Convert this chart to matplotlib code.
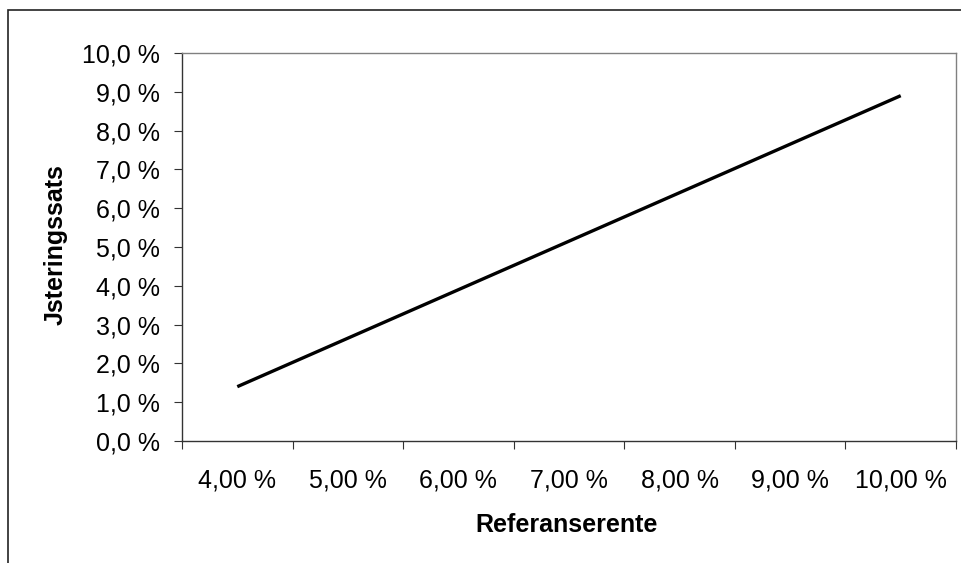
import numpy as np
import matplotlib
matplotlib.use("Agg")
from matplotlib import pyplot as plt
from matplotlib.patches import Rectangle

# data
categories = ['4,00 %', '5,00 %', '6,00 %', '7,00 %', '8,00 %', '9,00 %', '10,00 %']
values = [1.40, 2.65, 3.90, 5.15, 6.40, 7.65, 8.90]
y_ticks = [0, 1, 2, 3, 4, 5, 6, 7, 8, 9, 10]
y_labels = ['%.1f %%' % v for v in y_ticks]
y_labels = [s.replace('.', ',') for s in y_labels]

plt.rcParams['font.family'] = ['Liberation Sans', 'DejaVu Sans']

W, H = 962, 563
fs = 18
fig = plt.figure(figsize=(W / 100, H / 100), dpi=100)

# outer chart frame (only top and left visible in the reference)
fig.patches.append(Rectangle((8 / W, -0.1), 1.2, (H - 10) / H + 0.1,
                             transform=fig.transFigure, fill=False,
                             edgecolor='#222222', linewidth=1.2))

ax = fig.add_axes([182 / W, (H - 441) / H, 774 / W, 388 / H])

x = np.arange(len(categories))
ax.plot(x, values, color='black', linewidth=2.4, solid_capstyle='butt')

ax.set_xlim(-0.5, len(categories) - 0.5)
ax.set_ylim(0, 10)

# category axis: tick marks between categories, labels at centres
ax.set_xticks(np.arange(-0.5, len(categories)), labels=[])
ax.set_xticks(x, labels=categories, minor=True)
ax.tick_params(axis='x', which='minor', length=0, pad=20, labelsize=fs)
ax.tick_params(axis='x', which='major', length=6, width=0.8, direction='out',
               color='#333333')

ax.set_yticks(y_ticks, labels=y_labels)
ax.tick_params(axis='y', length=6, width=0.8, direction='out', pad=10,
               labelsize=fs, color='#333333')

for side in ['left', 'bottom']:
    ax.spines[side].set_color('#333333')
    ax.spines[side].set_linewidth(1.0)
for side in ['top', 'right']:
    ax.spines[side].set_color('#808080')
    ax.spines[side].set_linewidth(1.0)

fig.text(567 / W, 1 - 525 / H, 'Referanserente', fontsize=fs,
         fontweight='bold', ha='center', va='center')
fig.text(56 / W, 1 - 245 / H, 'Jsteringssats', fontsize=fs,
         fontweight='bold', ha='center', va='center', rotation=90)

fig.savefig('out.png', dpi=100)
